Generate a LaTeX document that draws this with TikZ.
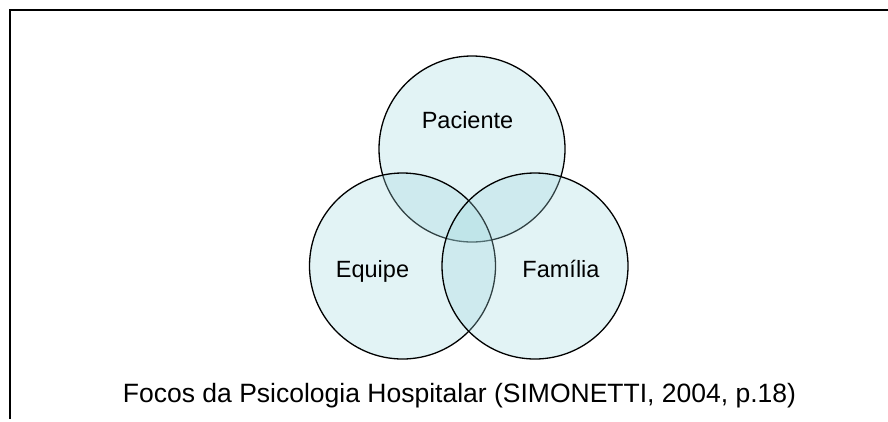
\documentclass[tikz,border=0pt]{standalone}
\usepackage{fontspec}
\setmainfont{Liberation Sans}
\begin{document}
\begin{tikzpicture}[x=1pt,y=-1pt,
  venn/.style={draw=black,line width=1.3pt,fill={rgb,255:red,160;green,215;blue,222},fill opacity=0.3},
  lbl/.style={anchor=base,font=\fontsize{23.5}{28}\selectfont,inner sep=0pt},
  caplbl/.style={anchor=base,font=\fontsize{26.5}{31}\selectfont,inner sep=0pt},
  frame/.style={line width=2.6pt,line cap=rect}]
\useasboundingbox (0,0) rectangle (888,421);
\coordinate (tl) at (10,10);
\coordinate (tr) at (888,10);
\coordinate (bl) at (10,418);
\draw[frame] (tr) -- (tl) -- (bl);
\draw[venn] (472,149) circle (93);
\draw[venn] (402.5,266) circle (93);
\draw[venn] (535,266) circle (93);
\node[lbl] (pac) at (467.5,128) {Paciente};
\node[lbl] (equ) at (372.5,277) {Equipe};
\node[lbl] (fam) at (561,277) {Família};
\node[caplbl] (cap) at (459.5,402) {Focos da Psicologia Hospitalar (SIMONETTI, 2004, p.18)};
\end{tikzpicture}
\end{document}
